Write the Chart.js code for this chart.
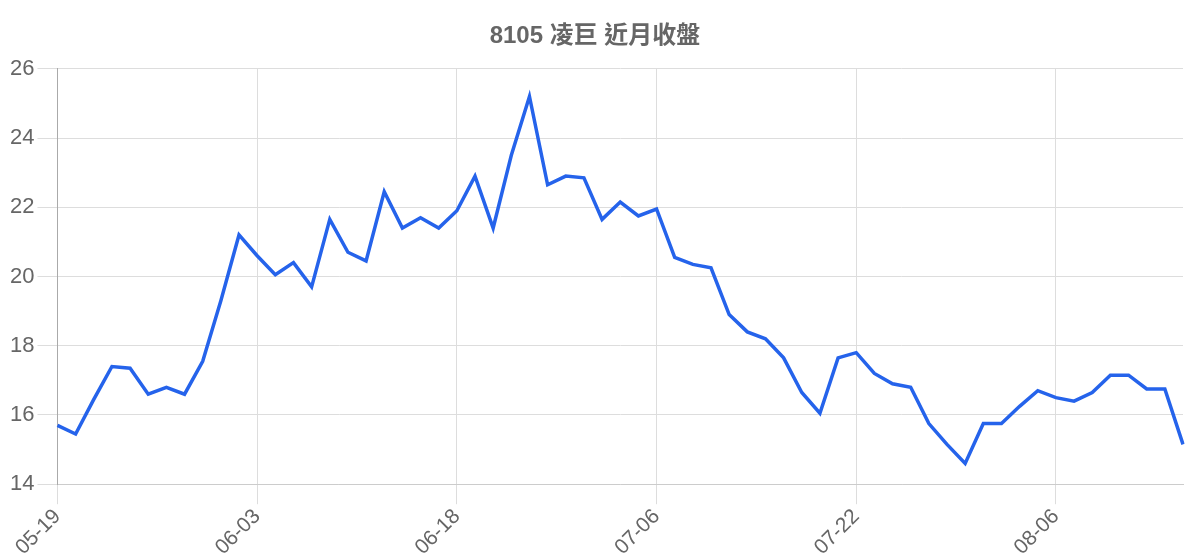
<!DOCTYPE html>
<html>
<head>
<meta charset="utf-8">
<script src="https://cdn.jsdelivr.net/npm/chart.js@4"></script>
<style>
  body { margin: 0; background: #fff; }
  #chartContainer { width: 1200px; height: 560px; }
</style>
</head>
<body>
<div id="chartContainer"><canvas id="myChart"></canvas></div>
<script>
// Chart data.
const chartTitle = "8105 凌巨 近月收盤";
const dates = [
  "05-19", "05-20", "05-21", "05-22", "05-23", "05-26", "05-27", "05-28", "05-29", "05-30",
  "06-02", "06-03", "06-04", "06-05", "06-06", "06-09", "06-10", "06-11", "06-12", "06-13",
  "06-16", "06-17", "06-18", "06-19", "06-20", "06-23", "06-24", "06-25", "06-26", "06-27",
  "06-30", "07-01", "07-02", "07-06", "07-07", "07-08", "07-09", "07-10", "07-13", "07-14",
  "07-15", "07-16", "07-17", "07-20", "07-22", "07-23", "07-24", "07-27", "07-28", "07-29",
  "07-30", "07-31", "08-03", "08-04", "08-05", "08-06", "08-07", "08-10", "08-11", "08-12",
  "08-13", "08-14", "08-17"
];
const closePrices = [
  15.70, 15.45, 16.45, 17.40, 17.35, 16.60, 16.80, 16.60, 17.55, 19.30,
  21.20, 20.60, 20.05, 20.40, 19.70, 21.65, 20.70, 20.45, 22.45, 21.40,
  21.70, 21.40, 21.90, 22.90, 21.40, 23.50, 25.20, 22.65, 22.90, 22.85,
  21.65, 22.15, 21.75, 21.95, 20.55, 20.35, 20.25, 18.90, 18.40, 18.20,
  17.65, 16.65, 16.05, 17.65, 17.80, 17.20, 16.90, 16.80, 15.75, 15.15,
  14.60, 15.75, 15.75, 16.25, 16.70, 16.50, 16.40, 16.65, 17.15, 17.15,
  16.75, 16.75, 15.15
];
const labelEvery = 11; // only every 11th date is shown on the x axis
const yMin = 14;
const yMax = 26;
const yStep = 2;

const fontFamily = "'Liberation Sans', Arial, 'Noto Sans CJK TC', sans-serif";

var ctx = document.getElementById("myChart");
var myChart = new Chart(ctx, {
  type: "line",
  data: {
    labels: dates,
    datasets: [
      {
        label: "收盤",
        data: closePrices,
        borderColor: "#2563eb",
        backgroundColor: "#2563eb",
        borderWidth: 3.5,
        pointRadius: 0,
        tension: 0,
        fill: false
      }
    ]
  },
  options: {
    responsive: true,
    maintainAspectRatio: false,
    animation: false,
    layout: { padding: { left: 7, right: 17, top: 8, bottom: 0 } },
    plugins: {
      legend: { display: false },
      tooltip: { enabled: false },
      title: {
        display: true,
        text: chartTitle,
        color: "#666",
        font: { family: fontFamily, size: 24, weight: "bold" },
        padding: { top: 14, bottom: 18 }
      }
    },
    scales: {
      x: {
        grid: { color: "#dddddd", tickLength: 20 },
        border: { color: "#cccccc" },
        ticks: {
          autoSkip: false,
          maxRotation: 45,
          minRotation: 45,
          color: "#666",
          padding: 0,
          font: { family: fontFamily, size: 21 },
          callback: function(value, index) {
            return index % labelEvery === 0 ? this.getLabelForValue(value) : null;
          }
        }
      },
      y: {
        min: yMin,
        max: yMax,
        grid: { color: "#dddddd", tickLength: 20 },
        border: { color: "#aaaaaa" },
        ticks: {
          stepSize: yStep,
          color: "#666",
          padding: 3,
          font: { family: fontFamily, size: 22 }
        }
      }
    }
  }
});
</script>
</body>
</html>
